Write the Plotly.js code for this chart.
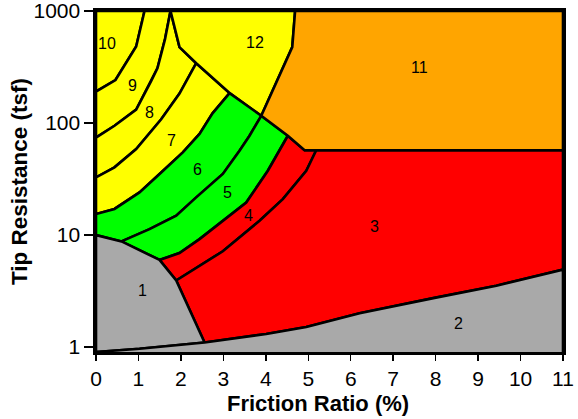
<!DOCTYPE html>
<html>
<head>
<meta charset="utf-8">
<script src="https://cdn.plot.ly/plotly-3.0.1.min.js"></script>
<style>html,body{margin:0;padding:0;background:#fff;}#chart{width:578px;height:419px;}</style>
</head>
<body>
<div id="chart"></div>
<script>
// ---- Data ----
const xTicks = [0, 1, 2, 3, 4, 5, 6, 7, 8, 9, 10, 11];
const yTicks = [1, 10, 100, 1000];
const yTickText = ['1', '10', '100', '1000'];
const xTitle = 'Friction Ratio (%)';
const yTitle = 'Tip Resistance (tsf)';

// Zone boundary lines (Friction Ratio %, Tip Resistance tsf)
const b10_9X = [1.143, 0.947, 0.459, 0];
const b10_9Y = [1000, 482, 242, 191];
const b9_8X = [1.755, 1.626, 1.496, 1.449, 1.301, 0.947, 0.436, 0];
const b9_8Y = [1000, 561, 363, 310, 238, 132, 94.6, 74];
const b8_7X = [2.361, 1.967, 1.536, 0.947, 0.436, 0];
const b8_7Y = [342, 183, 108, 58.6, 40.2, 32.7];
const b7_6X = [3.146, 2.745, 2.439, 2.045, 1.536, 1.025, 0.436, 0];
const b7_6Y = [185, 122, 80, 54.6, 36.2, 24, 17.1, 15.4];
const b6_5X = [3.893, 3.617, 3.381, 2.988, 2.361, 1.89, 1.261, 0.601];
const b6_5Y = [116, 77, 56.6, 35.1, 21.7, 14.9, 11.3, 8.77];
const b5_4X = [4.519, 4.048, 3.539, 2.439, 1.967, 1.496];
const b5_4Y = [77, 37.5, 19.5, 9.2, 6.9, 6.0];
const b4_3X = [5.188, 4.953, 4.401, 3.853, 2.988, 1.89];
const b4_3Y = [57.2, 37.5, 20.9, 13.4, 7.17, 3.93];
const diagX = [1.755, 1.967, 2.361, 3.146, 3.893, 4.519, 4.913];
const diagY = [1000, 476, 342, 185, 116, 77, 57.2];
const b12_11X = [4.69, 4.623, 3.893];
const b12_11Y = [1000, 476, 116];
const b11_3Y = 57.2;
const gray1X = [0, 0.601, 1.496, 1.89, 2.557];
const gray1Y = [10, 8.77, 6.0, 3.93, 1.098];
const zone2X = [0, 1.025, 2.557, 4.01, 4.953, 5.895, 6.209, 7.976, 9.43, 11];
const zone2Y = [0.905, 0.966, 1.098, 1.31, 1.51, 1.87, 2.0, 2.75, 3.53, 4.92];

// Zone labels
const zoneNames = ['1', '2', '3', '4', '5', '6', '7', '8', '9', '10', '11', '12'];
const zoneLabelX = [1.10, 8.54, 6.55, 3.60, 3.09, 2.39, 1.77, 1.26, 0.87, 0.27, 7.61, 3.74];
const zoneLabelY = [3.18, 1.62, 11.9, 14.9, 24, 38.3, 69.5, 123, 216, 517, 310, 525];

// ---- Build polygons ----
function seg(bx, by, i0, i1) {
  const out = [];
  const step = i1 >= i0 ? 1 : -1;
  for (let i = i0; i !== i1 + step; i += step) out.push([bx[i], by[i]]);
  return out;
}
const last = a => a.length - 1;
const X_MIN = 0, X_MAX = 11, Y_MAX = 1000, Y_FLOOR = 0.5;

const zones = [
  { name: '10', color: '#FFFF00', pts: [[X_MIN, Y_MAX]].concat(seg(b10_9X, b10_9Y, 0, last(b10_9X))) },
  { name: '9', color: '#FFFF00', pts: seg(b10_9X, b10_9Y, 0, last(b10_9X)).concat(seg(b9_8X, b9_8Y, last(b9_8X), 0)) },
  { name: '8', color: '#FFFF00', pts: seg(b9_8X, b9_8Y, 0, last(b9_8X)).concat(seg(b8_7X, b8_7Y, last(b8_7X), 0), seg(diagX, diagY, 2, 0)) },
  { name: '7', color: '#FFFF00', pts: seg(b8_7X, b8_7Y, 0, last(b8_7X)).concat(seg(b7_6X, b7_6Y, last(b7_6X), 0), seg(diagX, diagY, 3, 2)) },
  { name: '12', color: '#FFFF00', pts: seg(diagX, diagY, 0, 4).concat(seg(b12_11X, b12_11Y, last(b12_11X), 0)) },
  { name: '6', color: '#00FF00', pts: seg(b7_6X, b7_6Y, 0, last(b7_6X)).concat(seg(gray1X, gray1Y, 0, 1), seg(b6_5X, b6_5Y, last(b6_5X), 0), seg(diagX, diagY, 4, 3)) },
  { name: '5', color: '#00FF00', pts: seg(b6_5X, b6_5Y, 0, last(b6_5X)).concat(seg(gray1X, gray1Y, 1, 2), seg(b5_4X, b5_4Y, last(b5_4X), 0), seg(diagX, diagY, 5, 4)) },
  { name: '4', color: '#FF0000', pts: seg(b5_4X, b5_4Y, 0, last(b5_4X)).concat(seg(gray1X, gray1Y, 2, 3), seg(b4_3X, b4_3Y, last(b4_3X), 0), seg(diagX, diagY, 6, 5)) },
  { name: '3', color: '#FF0000', pts: seg(b4_3X, b4_3Y, 0, last(b4_3X)).concat(seg(gray1X, gray1Y, 3, 4), seg(zone2X, zone2Y, 2, last(zone2X)), [[X_MAX, b11_3Y]]) },
  { name: '11', color: '#FFA500', pts: seg(b12_11X, b12_11Y, 0, last(b12_11X)).concat(seg(diagX, diagY, 4, 6), [[X_MAX, b11_3Y], [X_MAX, Y_MAX]]) },
  { name: '1', color: '#A9A9A9', pts: seg(gray1X, gray1Y, 0, last(gray1X)).concat(seg(zone2X, zone2Y, 2, 0)) },
  { name: '2', color: '#A9A9A9', pts: seg(zone2X, zone2Y, 0, last(zone2X)).concat([[X_MAX, Y_FLOOR], [X_MIN, Y_FLOOR]]) }
];

const traces = zones.map(z => ({
  type: 'scatter', mode: 'lines',
  x: z.pts.map(p => p[0]).concat([z.pts[0][0]]),
  y: z.pts.map(p => p[1]).concat([z.pts[0][1]]),
  fill: 'toself', fillcolor: z.color,
  line: { color: '#000', width: 2.6 },
  hoverinfo: 'skip', showlegend: false, name: 'Zone ' + z.name
}));

const FONT = 'Arial, Liberation Sans, sans-serif';
const annotations = zoneNames.map((n, i) => ({
  x: zoneLabelX[i], y: Math.log10(zoneLabelY[i]), xref: 'x', yref: 'y',
  text: n, showarrow: false,
  font: { family: FONT, size: 16, color: '#000' }
}));
annotations.push({
  xref: 'paper', yref: 'paper', x: 0.4755, y: -0.152, xanchor: 'center', yanchor: 'middle',
  text: '<b>' + xTitle + '</b>', showarrow: false,
  font: { family: FONT, size: 22, color: '#000' }
});

const layout = {
  width: 578, height: 419,
  margin: { l: 96, r: 15, t: 11, b: 67, pad: 0 },
  paper_bgcolor: '#fff', plot_bgcolor: '#fff',
  font: { family: FONT, color: '#000' },
  showlegend: false,
  xaxis: {
    range: [0, 11], tickmode: 'array', tickvals: xTicks,
    ticks: 'outside', ticklen: 6, tickwidth: 1.5, tickcolor: '#000',
    showline: true, linewidth: 2.6, linecolor: '#000', mirror: true,
    showgrid: false, zeroline: false, ticklabeloverflow: 'allow',
    tickfont: { family: FONT, size: 21, color: '#000' }
  },
  yaxis: {
    type: 'log', range: [-0.044, 3], tickmode: 'array', tickvals: yTicks, ticktext: yTickText,
    ticks: 'outside', ticklen: 9, tickwidth: 1.5, tickcolor: '#000',
    showline: true, linewidth: 2.6, linecolor: '#000', mirror: true,
    showgrid: false, zeroline: false, ticklabeloverflow: 'allow',
    tickfont: { family: FONT, size: 21, color: '#000' },
    title: { text: '<b>' + yTitle + '</b>', font: { family: FONT, size: 22.5, color: '#000' }, standoff: 0 }
  },
  annotations: annotations
};

Plotly.newPlot('chart', traces, layout, { staticPlot: true, displayModeBar: false });
</script>
</body>
</html>
